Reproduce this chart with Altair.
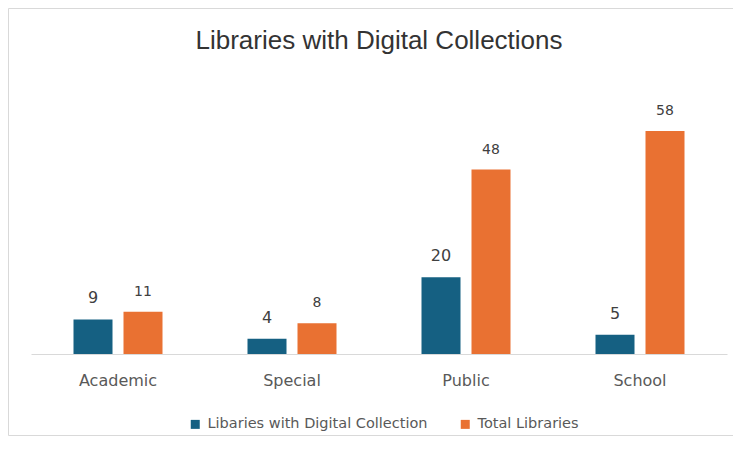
import altair as alt
import pandas as pd

categories = ["Academic", "Special", "Public", "School"]
series_names = ["Libaries with Digital Collection", "Total Libraries"]
digital = [9, 4, 20, 5]
total = [11, 8, 48, 58]

rows = []
for i, c in enumerate(categories):
    rows.append({"category": c, "series": series_names[0], "value": digital[i]})
    rows.append({"category": c, "series": series_names[1], "value": total[i]})
df = pd.DataFrame(rows)

colors = ["#156082", "#E97132"]

x_enc = alt.X("category:N", sort=categories,
              scale=alt.Scale(domain=categories, paddingInner=0, paddingOuter=0),
              axis=alt.Axis(title=None, labelAngle=0, ticks=False, domainColor="#d9d9d9",
                            labelFont="DejaVu Sans", labelFontSize=16, labelColor="#595959",
                            labelPadding=18))
xo_enc = alt.XOffset("series:N", sort=series_names,
                     scale=alt.Scale(domain=series_names, paddingInner=0.22, paddingOuter=0.85))
y_enc = alt.Y("value:Q", scale=alt.Scale(domain=[0, 70], nice=False),
              axis=None)

base = alt.Chart(df)

bars = base.mark_bar().encode(
    x=x_enc, xOffset=xo_enc, y=y_enc,
    color=alt.Color("series:N", sort=series_names,
                    scale=alt.Scale(domain=series_names, range=colors),
                    legend=alt.Legend(title=None, orient="none", direction="horizontal",
                                      legendX=157, legendY=332, padding=0,
                                      symbolType="square", symbolSize=81,
                                      symbolStrokeWidth=0, labelFont="DejaVu Sans",
                                      labelFontSize=14.5, labelColor="#595959",
                                      labelLimit=400, labelOffset=5, columnPadding=30)),
)

lab_blue = base.transform_filter(alt.datum.series == series_names[0]).mark_text(
    baseline="middle", dy=-21, font="DejaVu Sans", fontSize=16, color="#404040"
).encode(x=x_enc, xOffset=xo_enc, y=y_enc, text="value:Q")

lab_orange = base.transform_filter(alt.datum.series == series_names[1]).mark_text(
    baseline="middle", dy=-20, font="DejaVu Sans", fontSize=14, color="#404040"
).encode(x=x_enc, xOffset=xo_enc, y=y_enc, text="value:Q")

border = alt.Chart(alt.Data(values=[{"a": 1}])).mark_rect(
    fillOpacity=0, stroke="#d9d9d9", strokeWidth=1
).encode(x=alt.value(-22.5), x2=alt.value(707), y=alt.value(-76.5), y2=alt.value(350.5))

chart = alt.layer(border, bars, lab_blue, lab_orange).properties(
    width=696, height=269,
    padding={"left": 23, "top": 77, "right": 6, "bottom": 84},
    autosize=alt.AutoSizeParams(type="none"),
    title=alt.TitleParams("Libraries with Digital Collections", font="Liberation Sans",
                          fontSize=26, fontWeight="normal", color="#333333",
                          anchor="middle", offset=-45.5),
).configure_view(stroke=None)

chart.save("out.html", embed_options={"renderer": "svg", "actions": False})
